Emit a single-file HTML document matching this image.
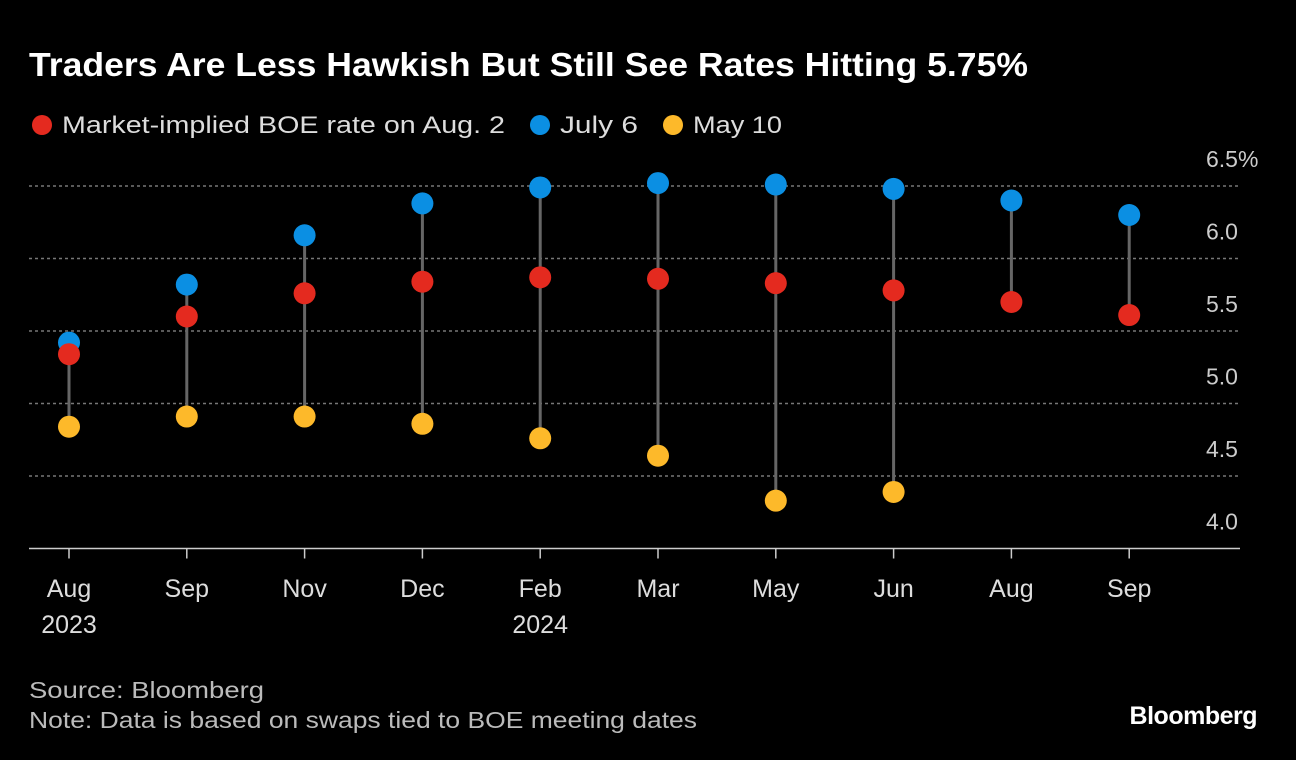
<!DOCTYPE html>
<html><head><meta charset="utf-8"><style>
body{margin:0;background:#000;width:1296px;height:760px;overflow:hidden;font-family:"Liberation Sans",sans-serif;color:#fff}
</style></head><body>
<svg width="1296" height="760" style="position:absolute;left:0;top:0">
<text x="29" y="76" font-size="33" font-weight="bold" fill="#fff" textLength="999" lengthAdjust="spacingAndGlyphs">Traders Are Less Hawkish But Still See Rates Hitting 5.75%</text>
<g font-size="24" fill="#ddd">
<circle cx="42" cy="125" r="10" fill="#e42a1f"/>
<text x="62" y="133" textLength="443" lengthAdjust="spacingAndGlyphs">Market-implied BOE rate on Aug. 2</text>
<circle cx="540" cy="125" r="10" fill="#0b8fe3"/>
<text x="560" y="133" textLength="78" lengthAdjust="spacingAndGlyphs">July 6</text>
<circle cx="673" cy="125" r="10" fill="#fdb92a"/>
<text x="693" y="133" textLength="89" lengthAdjust="spacingAndGlyphs">May 10</text>
</g>
<g id="plot"></g>
<text x="29" y="698" font-size="23" fill="#bbb" textLength="235" lengthAdjust="spacingAndGlyphs">Source: Bloomberg</text>
<text x="29" y="728" font-size="23" fill="#bbb" textLength="668" lengthAdjust="spacingAndGlyphs">Note: Data is based on swaps tied to BOE meeting dates</text>
<text x="1257" y="724" font-size="25" font-weight="bold" fill="#fff" text-anchor="end" letter-spacing="-0.5">Bloomberg</text>
</svg>
<script>
const categories=["Aug","Sep","Nov","Dec","Feb","Mar","May","Jun","Aug","Sep"];
const years=["2023","","","","2024","","","","",""];
const aug2=[5.34,5.60,5.76,5.84,5.87,5.86,5.83,5.78,5.70,5.61];
const july6=[5.42,5.82,6.16,6.38,6.49,6.52,6.51,6.48,6.40,6.30];
const may10=[4.84,4.91,4.91,4.86,4.76,4.64,4.33,4.39,null,null];
const yTicks=[4.0,4.5,5.0,5.5,6.0,6.5];
const yTickLabels=["4.0","4.5","5.0","5.5","6.0","6.5%"];
const NS="http://www.w3.org/2000/svg";
const g=document.getElementById('plot');
const x=i=>69+i*117.8;
const y=v=>186+(6.5-v)*145;
function mk(t,a){const e=document.createElementNS(NS,t);for(const k in a)e.setAttribute(k,a[k]);g.appendChild(e);return e;}
yTicks.forEach((v,i)=>{
  if(v>4.0){const l=mk('line',{x1:29,x2:1240,y1:y(v),y2:y(v),stroke:'#777','stroke-width':1.5,'stroke-dasharray':'3,3'});
  
  }
  const t=mk('text',{x:1206,y:y(v)-19,'font-size':23,fill:'#ccc','text-anchor':'start'});
  t.textContent=yTickLabels[i];
  
  
});
const base=mk('line',{x1:29,x2:1240,y1:y(4.0),y2:y(4.0),stroke:'#ccc','stroke-width':1.5});


categories.forEach((c,i)=>{
  const tk=mk('line',{x1:x(i),x2:x(i),y1:y(4.0),y2:y(4.0)+10,stroke:'#ccc','stroke-width':1.5});
  
  
  const t=mk('text',{x:x(i),y:597,'font-size':25,fill:'#ddd','text-anchor':'middle'});
  t.textContent=c;
  
  
  if(years[i]){const yt=mk('text',{x:x(i),y:633,'font-size':25,fill:'#ddd','text-anchor':'middle'});
  yt.textContent=years[i];
  
  }
  const vals=[aug2[i],july6[i],may10[i]].filter(v=>v!=null);
  const ln=mk('line',{x1:x(i),x2:x(i),y1:y(Math.max(...vals)),y2:y(Math.min(...vals)),stroke:'#666','stroke-width':3});
  
  
});
function dots(arr,col,name){arr.forEach((v,i)=>{if(v==null)return;
  const c=mk('circle',{cx:x(i),cy:y(v),r:11,fill:col});
  
  });}
dots(may10,'#fdb92a','may10-point');
dots(july6,'#0b8fe3','july6-point');
dots(aug2,'#e42a1f','aug2-point');
</script>
</body></html>
